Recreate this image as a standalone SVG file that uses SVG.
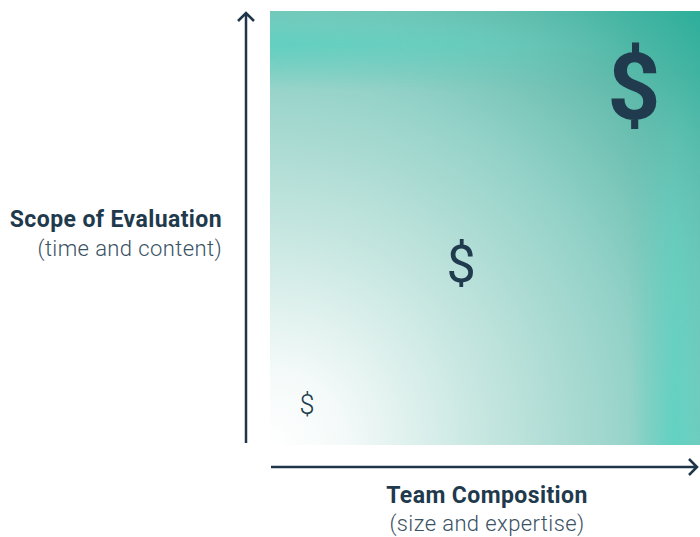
<svg xmlns="http://www.w3.org/2000/svg" width="700" height="537" viewBox="0 0 700 537">
<style>
.title{font-family:Roboto,"Liberation Sans",sans-serif;font-weight:700;font-size:23px;letter-spacing:0.4px;fill:#1f3a4d}
.sub{font-family:Roboto,"Liberation Sans",sans-serif;font-weight:300;font-size:22px;letter-spacing:0.4px;fill:#3a5264}
.axis{stroke:#1f3549;stroke-width:2.5;fill:none}
.dollar{font-family:Roboto,"Liberation Sans",sans-serif;fill:#203b4e;text-anchor:middle}
</style>
<defs>
<radialGradient id="rad" gradientUnits="userSpaceOnUse" cx="270" cy="445" r="615">
<stop offset="0" stop-color="#ffffff"/>
<stop offset="0.12" stop-color="#f4faf9"/>
<stop offset="0.35" stop-color="#c6e6e0"/>
<stop offset="0.6" stop-color="#94d2c8"/>
<stop offset="0.8" stop-color="#64bcad"/>
<stop offset="1" stop-color="#2aae9a"/>
</radialGradient>
<linearGradient id="topband" gradientUnits="userSpaceOnUse" x1="0" y1="11" x2="0" y2="90">
<stop offset="0" stop-color="#60d0c0" stop-opacity="0.3"/>
<stop offset="0.42" stop-color="#60d0c0" stop-opacity="0.95"/>
<stop offset="1" stop-color="#60d0c0" stop-opacity="0"/>
</linearGradient>
<linearGradient id="topfade" gradientUnits="userSpaceOnUse" x1="270" y1="0" x2="640" y2="0">
<stop offset="0" stop-color="#fff"/>
<stop offset="0.5" stop-color="#fff" stop-opacity="0.7"/>
<stop offset="1" stop-color="#fff" stop-opacity="0"/>
</linearGradient>
<mask id="tm"><rect x="270" y="11" width="430" height="434" fill="url(#topfade)"/></mask>
<linearGradient id="rightband" gradientUnits="userSpaceOnUse" x1="630" y1="0" x2="700" y2="0">
<stop offset="0" stop-color="#60d2c2" stop-opacity="0"/>
<stop offset="0.65" stop-color="#60d2c2" stop-opacity="0.95"/>
<stop offset="1" stop-color="#60d2c2" stop-opacity="0.5"/>
</linearGradient>
<linearGradient id="rfade" gradientUnits="userSpaceOnUse" x1="0" y1="445" x2="0" y2="70">
<stop offset="0" stop-color="#fff"/>
<stop offset="0.5" stop-color="#fff" stop-opacity="0.7"/>
<stop offset="1" stop-color="#fff" stop-opacity="0"/>
</linearGradient>
<mask id="rm"><rect x="270" y="11" width="430" height="434" fill="url(#rfade)"/></mask>
</defs>
<g id="field">
<rect x="270" y="11" width="430" height="434" fill="url(#rad)"/>
<rect x="270" y="11" width="430" height="79" fill="url(#topband)" mask="url(#tm)"/>
<rect x="630" y="11" width="70" height="434" fill="url(#rightband)" mask="url(#rm)"/>
</g>
<g id="connectors">
<path class="axis" d="M246 443 V13 M238 21 L246 13 L254 21"/>
<path class="axis" d="M271 467 H697 M689 459 L697 467 L689 475"/>
</g>
<g id="y-label">
<text class="title" x="222" y="227" text-anchor="end">Scope of Evaluation</text>
<text class="sub" x="222" y="256" text-anchor="end">(time and content)</text>
</g>
<g id="x-label">
<text class="title" x="487" y="503" text-anchor="middle">Team Composition</text>
<text class="sub" x="487" y="531" text-anchor="middle">(size and expertise)</text>
</g>
<g id="dollar-small"><text class="dollar" x="307" y="414" font-size="27" font-weight="300">$</text></g>
<g id="dollar-medium"><text class="dollar" x="461" y="282" font-size="52" font-weight="400">$</text></g>
<g id="dollar-large"><text class="dollar" x="634" y="119" font-size="93" font-weight="700">$</text></g>
</svg>
